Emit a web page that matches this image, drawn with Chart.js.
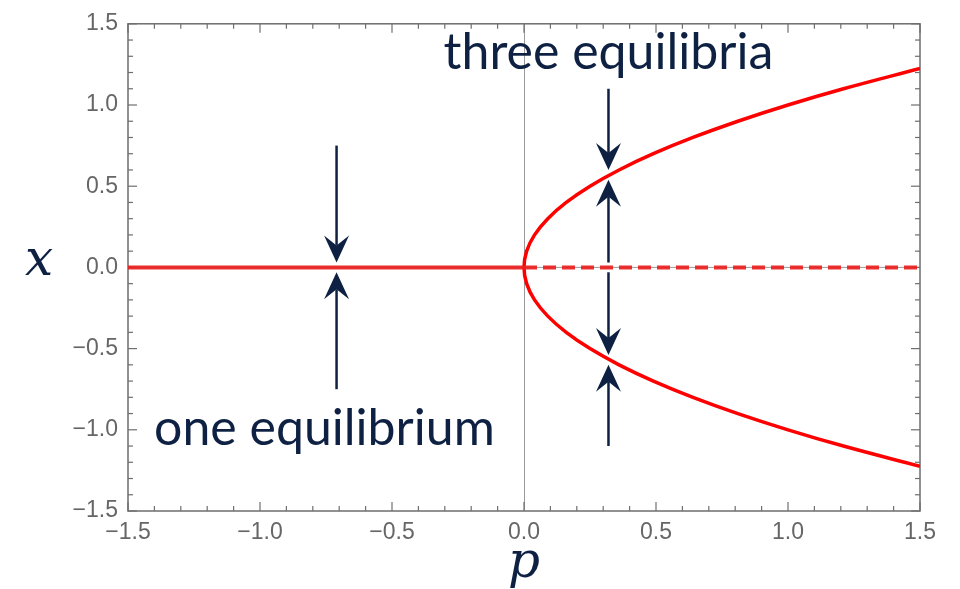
<!DOCTYPE html>
<html>
<head>
<meta charset="utf-8">
<script src="https://cdn.jsdelivr.net/npm/chart.js@4.4.1/dist/chart.umd.min.js"></script>
<style>
  html, body { margin: 0; padding: 0; background: #ffffff; }
  #wrap { width: 960px; height: 589px; }
</style>
</head>
<body>
<div id="wrap"><canvas id="c" width="960" height="589"></canvas></div>
<script>
// Pitchfork bifurcation: equilibria x* of dx/dt = p x - x^3 against p

// Axis range and tick labels
const axisMin = -1.5;
const axisMax = 1.5;
const pTickLabels = ['\u22121.5', '\u22121.0', '\u22120.5', '0.0', '0.5', '1.0', '1.5'];
const xTickLabels = ['\u22121.5', '\u22121.0', '\u22120.5', '0.0', '0.5', '1.0', '1.5'];

// Trivial equilibrium x* = 0 (stable for p < 0, unstable for p > 0)
const stableZeroP = [-1.5, 0];
const stableZeroX = [0, 0];
const unstableZeroP = [0, 1.5];
const unstableZeroX = [0, 0];

// Nontrivial branches x* = ±√p, traced from bottom to top
const branchX = [-1.225, -1.1, -1.0, -0.9, -0.8, -0.7, -0.6, -0.5, -0.4, -0.3, -0.2, -0.1, 0,
                 0.1, 0.2, 0.3, 0.4, 0.5, 0.6, 0.7, 0.8, 0.9, 1.0, 1.1, 1.225];
const branchP = [1.5, 1.21, 1.0, 0.81, 0.64, 0.49, 0.36, 0.25, 0.16, 0.09, 0.04, 0.01, 0,
                 0.01, 0.04, 0.09, 0.16, 0.25, 0.36, 0.49, 0.64, 0.81, 1.0, 1.21, 1.5];

// Flow arrows: column at p, running from x = arrowFrom to the head at x = arrowTo
const arrowP    = [-0.71, -0.71, 0.32, 0.32, 0.32, 0.32];
const arrowFrom = [0.75, -0.75, 1.1, 0.03, -0.03, -1.1];
const arrowTo   = [0.03, -0.03, 0.6, 0.54, -0.54, -0.6];

// Annotations
const noteText = ['three equilibria', 'one equilibrium'];
const noteP    = [0.32, -0.756];
const noteX    = [1.224, -1.095];

const pTitle = 'p';
const xTitle = 'x';

const navy = '#0e2143';
const red = '#ff0000';
const zeroRed = 'rgba(236, 30, 30, 0.92)';

function pts(ps, xs) { return ps.map((p, i) => ({ x: p, y: xs[i] })); }

const overlay = {
  id: 'overlay',
  beforeDatasetsDraw(chart) {
    const { ctx, chartArea: a, scales: { x, y } } = chart;
    ctx.save();
    const seg = (x1, y1, x2, y2) => { ctx.beginPath(); ctx.moveTo(x1, y1); ctx.lineTo(x2, y2); ctx.stroke(); };
    // zero axes
    ctx.strokeStyle = '#9a9a9a';
    ctx.lineWidth = 1;
    const px0 = Math.round(x.getPixelForValue(0)) + 0.5;
    seg(px0, a.top, px0, a.bottom);
    const py0 = y.getPixelForValue(0);
    seg(a.left, py0, a.right, py0);
    // frame
    ctx.strokeStyle = '#6e6e6e';
    ctx.lineWidth = 1.5;
    ctx.strokeRect(a.left, a.top, a.right - a.left, a.bottom - a.top);
    // inward ticks on all four sides, majors every 0.5, minors every 0.1
    ctx.lineWidth = 1.2;
    for (let k = Math.round(axisMin * 10); k <= Math.round(axisMax * 10); k++) {
      const v = k / 10;
      const len = (k % 5 === 0) ? 9 : 5;
      const px = x.getPixelForValue(v);
      seg(px, a.bottom, px, a.bottom - len);
      seg(px, a.top, px, a.top + len);
      const py = y.getPixelForValue(v);
      seg(a.left, py, a.left + len, py);
      seg(a.right, py, a.right - len, py);
    }
    ctx.restore();
  },
  afterDatasetsDraw(chart) {
    const { ctx, scales: { x, y } } = chart;
    ctx.save();
    // flow arrows
    ctx.strokeStyle = navy;
    ctx.fillStyle = navy;
    ctx.lineWidth = 2.5;
    const L = 27, W = 12.5, N = 10;
    arrowP.forEach((p, i) => {
      const px = x.getPixelForValue(p);
      const y1 = y.getPixelForValue(arrowFrom[i]);
      const y2 = y.getPixelForValue(arrowTo[i]);
      const dir = Math.sign(y2 - y1);
      ctx.beginPath();
      ctx.moveTo(px, y1);
      ctx.lineTo(px, y2 - dir * (L - N));
      ctx.stroke();
      ctx.beginPath();
      ctx.moveTo(px, y2);
      ctx.lineTo(px - W, y2 - dir * L);
      ctx.lineTo(px, y2 - dir * (L - N));
      ctx.lineTo(px + W, y2 - dir * L);
      ctx.closePath();
      ctx.fill();
    });
    // annotations
    ctx.font = '50px Lato';
    ctx.textAlign = 'center';
    ctx.textBaseline = 'alphabetic';
    noteText.forEach((t, i) => {
      ctx.fillText(t, x.getPixelForValue(noteP[i]), y.getPixelForValue(noteX[i]));
    });
    // axis titles
    ctx.font = 'italic 50px "DejaVu Serif"';
    ctx.fillText(pTitle, (chart.chartArea.left + chart.chartArea.right) / 2, 577);
    ctx.fillText(xTitle, 39, 275);
    ctx.restore();
  }
};

new Chart(document.getElementById('c'), {
  type: 'scatter',
  data: {
    datasets: [
      { data: pts(stableZeroP, stableZeroX), showLine: true, borderColor: zeroRed, borderWidth: 4, pointRadius: 0 },
      { data: pts(unstableZeroP, unstableZeroX), showLine: true, borderColor: zeroRed, borderWidth: 4, borderDash: [13, 6], pointRadius: 0 },
      { data: pts(branchP, branchX), showLine: true, borderColor: red, borderWidth: 3.5, pointRadius: 0, tension: 0.4 }
    ]
  },
  options: {
    responsive: false,
    animation: false,
    events: [],
    layout: { padding: { top: 22, right: 40, left: 0, bottom: 0 } },
    plugins: { legend: { display: false }, tooltip: { enabled: false } },
    scales: {
      x: {
        type: 'linear', min: axisMin, max: axisMax,
        grid: { display: false, drawTicks: false },
        border: { display: false },
        ticks: {
          stepSize: 0.5, padding: 8, color: '#666666', maxRotation: 0,
          font: { family: '"Liberation Sans", Arial', size: 23 },
          callback: (v, i) => pTickLabels[i]
        },
        afterFit: (s) => { s.height = 78; }
      },
      y: {
        type: 'linear', min: axisMin, max: axisMax,
        grid: { display: false, drawTicks: false },
        border: { display: false },
        ticks: {
          stepSize: 0.5, padding: 10, color: '#666666',
          font: { family: '"Liberation Sans", Arial', size: 23 },
          callback: (v, i) => xTickLabels[i]
        },
        afterFit: (s) => { s.width = 128; }
      }
    }
  },
  plugins: [overlay]
});
</script>
</body>
</html>
